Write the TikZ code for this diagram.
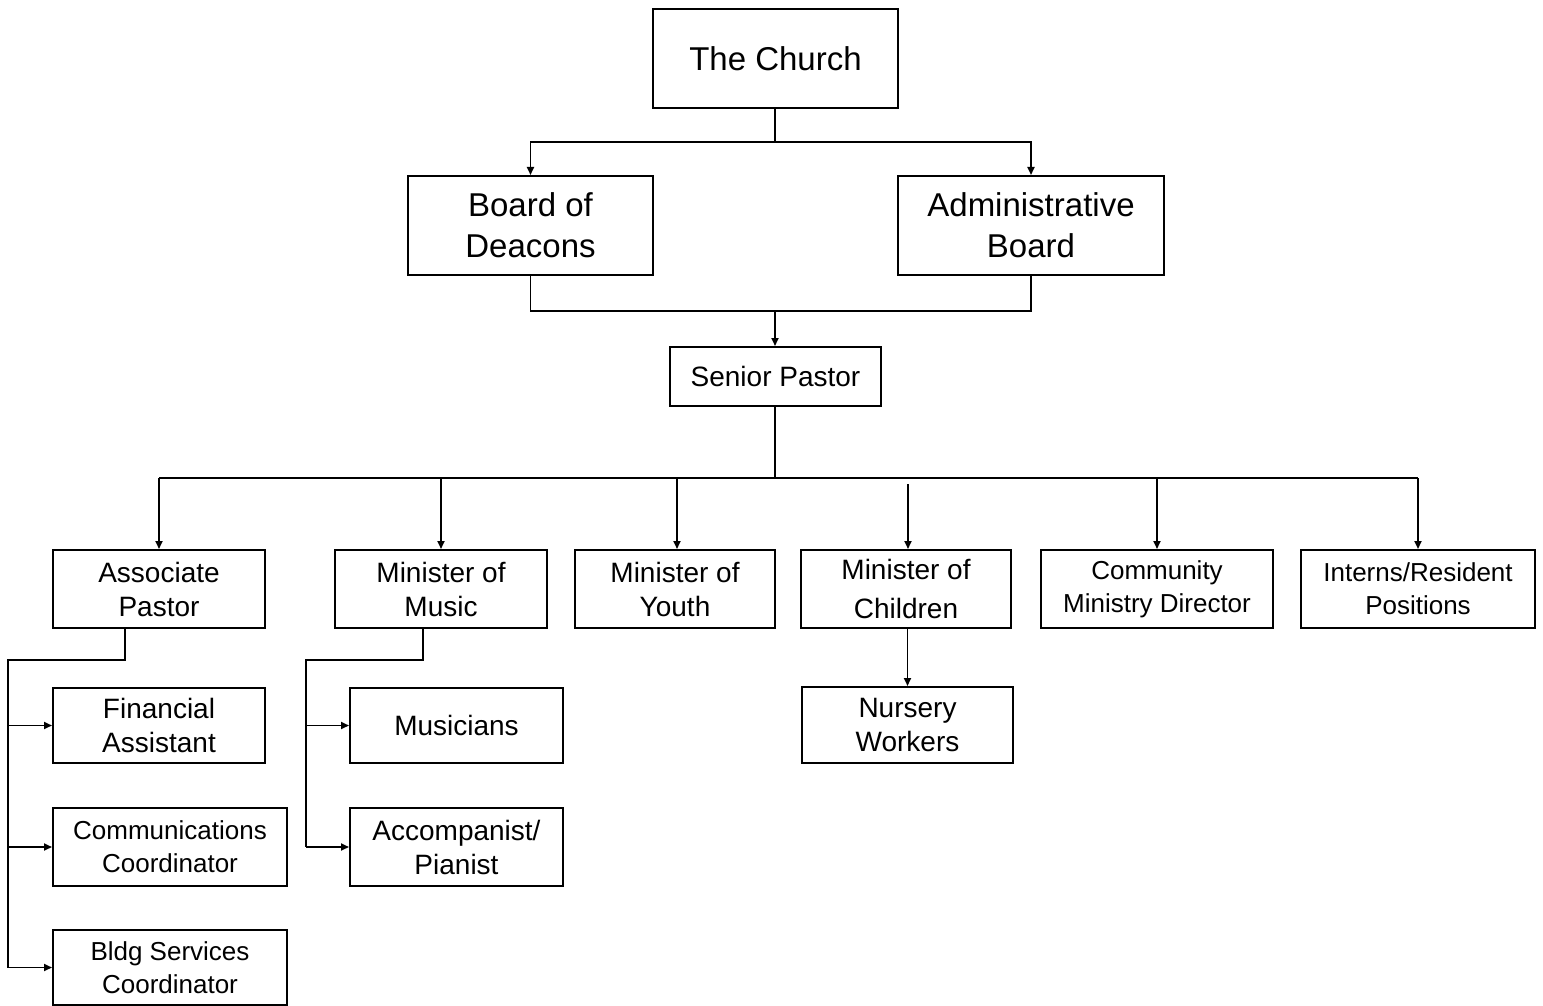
\documentclass[tikz,border=0pt]{standalone}
\usepackage{fontspec}
\setmainfont{Liberation Sans}
\usetikzlibrary{arrows.meta}
\begin{document}
\begin{tikzpicture}[x=0.5pt,y=-0.5pt,
  box/.style={draw, line width=1pt, inner sep=0pt, align=center},
  big/.style={box, font=\fontsize{16.5}{20.5}\selectfont},
  mid/.style={box, font=\fontsize{14}{17}\selectfont},
  small/.style={box, font=\fontsize{13}{16.5}\selectfont},
  conn/.style={line width=0.9pt},
  arr/.style={conn, -{Triangle[length=4pt,width=3.5pt]}}]
\useasboundingbox (0,0) rectangle (1543,1006);
% top
\node[big, minimum width=122.5pt, minimum height=49.5pt] (church) at (775.5,58.5) {The Church};
\node[big, minimum width=122.5pt, minimum height=49.5pt] (deacons) at (530.5,225.5) {Board of\\Deacons};
\node[big, minimum width=133pt, minimum height=49.5pt] (admin) at (1031,225.5) {Administrative\\Board};
\node[mid, minimum width=105.5pt, minimum height=29.5pt] (senior) at (775.5,376.5) {Senior Pastor};
% row
\node[mid, minimum width=106pt, minimum height=39pt] (assoc) at (159,589) {Associate\\Pastor};
\node[mid, minimum width=106pt, minimum height=39pt] (music) at (441,589) {Minister of\\Music};
\node[mid, minimum width=100pt, minimum height=39pt] (youth) at (675,589) {Minister of\\Youth};
\node[mid, minimum width=105pt, minimum height=39pt, font=\fontsize{14}{19.5}\selectfont] (children) at (906,589) {Minister of\\Children};
\node[small, minimum width=116pt, minimum height=39pt] (community) at (1157,589) {Community\\Ministry Director};
\node[small, minimum width=117pt, minimum height=39pt] (interns) at (1418,589) {Interns/Resident\\Positions};
% sub
\node[mid, minimum width=106pt, minimum height=37.5pt] (fin) at (159,725.5) {Financial\\Assistant};
\node[small, minimum width=117pt, minimum height=39pt] (comm) at (170,847) {Communications\\Coordinator};
\node[small, minimum width=117pt, minimum height=37.5pt] (bldg) at (170,967.5) {Bldg Services\\Coordinator};
\node[mid, minimum width=106.5pt, minimum height=37.5pt] (musicians) at (456.5,725.5) {Musicians};
\node[mid, minimum width=106.5pt, minimum height=39pt] (accomp) at (456.5,847) {Accompanist/\\Pianist};
\node[mid, minimum width=105.5pt, minimum height=38pt] (nursery) at (907.5,725) {Nursery\\Workers};
% junctions
\coordinate (j1) at (775,142);
\coordinate (j2) at (775,311);
\coordinate (j3) at (775,478);
\coordinate (a1) at (125,660);
\coordinate (a2) at (8,660);
\coordinate (m1) at (423,660);
\coordinate (m2) at (306,660);
% connectors
\draw[conn] (church.south -| j1) -- (j1);
\draw[arr] (j1) -| (deacons.north);
\draw[arr] (j1) -| (admin.north);
\draw[conn] (deacons.south) |- (j2) -| (admin.south);
\draw[arr] (j2) -- (senior.north -| j2);
\draw[conn] (senior.south -| j3) -- (j3);
\draw[conn] (assoc.north |- j3) -- (interns.north |- j3);
\draw[arr] (assoc.north |- j3) -- (assoc.north);
\draw[arr] (music.north |- j3) -- (music.north);
\draw[arr] ([xshift=1pt]youth.north |- j3) -- ([xshift=1pt]youth.north);
\draw[arr] ([xshift=1pt,yshift=-3pt]children.north |- j3) -- ([xshift=1pt]children.north);
\draw[arr] (community.north |- j3) -- (community.north);
\draw[arr] (interns.north |- j3) -- (interns.north);
% associate pastor subtree
\draw[conn] (assoc.south -| a1) -- (a1) -- (a2) -- (a2 |- bldg.west);
\draw[arr] (a2 |- fin.west) -- (fin.west);
\draw[arr] (a2 |- comm.west) -- (comm.west);
\draw[arr] (a2 |- bldg.west) -- (bldg.west);
% music subtree
\draw[conn] (music.south -| m1) -- (m1) -- (m2) -- (m2 |- accomp.west);
\draw[arr] (m2 |- musicians.west) -- (musicians.west);
\draw[arr] (m2 |- accomp.west) -- (accomp.west);
% children
\draw[arr] (nursery.north |- children.south) -- (nursery.north);
\end{tikzpicture}
\end{document}
